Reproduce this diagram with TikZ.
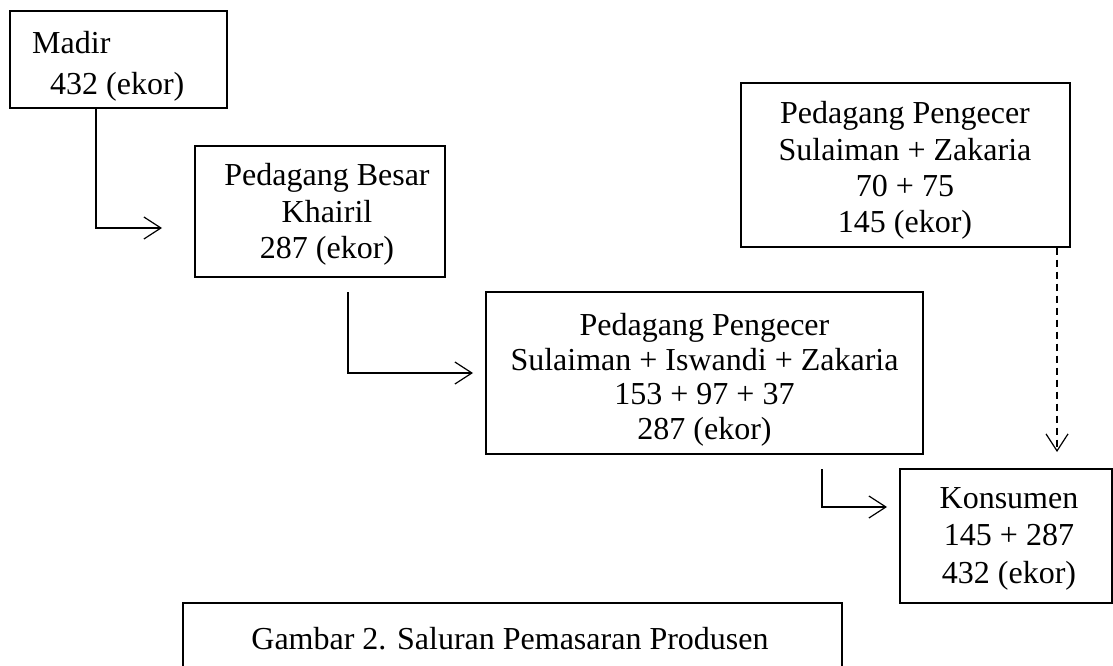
\documentclass[tikz,border=0pt]{standalone}
\usepackage{fontspec}
\setmainfont{Liberation Serif}
\usetikzlibrary{arrows.meta}
\begin{document}
\begin{tikzpicture}[x=1pt,y=-1pt,
  box/.style={draw, line width=1.2pt, inner sep=0pt},
  txt/.style={inner sep=0pt, align=center, font=\fontsize{32}{36.5}\selectfont},
  arr/.style={line width=1.2pt, -{Straight Barb[length=17pt,width=22pt]}},
  dsh/.style={dash pattern=on 7pt off 5pt}]
\useasboundingbox (0,0) rectangle (1113,666);
\clip (0,0) rectangle (1113,666);
% boxes
\node[box, minimum width=217pt, minimum height=97pt]  (madir)  at (118.5,59.5) {};
\node[box, minimum width=250pt, minimum height=131pt] (besar)  at (320,211.5) {};
\node[box, minimum width=329pt, minimum height=164pt] (topr)   at (905.5,165) {};
\node[box, minimum width=437pt, minimum height=162pt] (middle) at (704.5,373) {};
\node[box, minimum width=212pt, minimum height=134pt] (kons)   at (1006,536) {};
\node[box, minimum width=659pt, minimum height=74pt]  (capbox) at (512.5,640) {};
% texts
\node[txt, anchor=north west, align=left] (madirT) at (32,31.5) {Madir\\[4.5pt]\hspace*{18pt}432 (ekor)};
\node[txt, anchor=north] (besarT) at (327,163.5) {Pedagang Besar\\Khairil\\287 (ekor)};
\node[txt, anchor=north, font=\fontsize{32}{36.3}\selectfont] (toprT) at (905,101.5) {Pedagang Pengecer\\Sulaiman + Zakaria\\70 + 75\\145 (ekor)};
\node[txt, anchor=north, font=\fontsize{32}{34.5}\selectfont] (midT) at (704.5,313.5) {Pedagang Pengecer\\Sulaiman + Iswandi + Zakaria\\153 + 97 + 37\\287 (ekor)};
\node[txt, anchor=north, font=\fontsize{32}{37.5}\selectfont] (konsT) at (1009,487) {Konsumen\\145 + 287\\432 (ekor)};
\node[txt, anchor=base] (capT) at (510,649) {Gambar 2. Saluran Pemasaran Produsen};
% connector ends
\coordinate (a1e) at (162,228);
\coordinate (a2s) at (348,292);
\coordinate (a2e) at (473,373);
\coordinate (a3e) at (1057,452);
\coordinate (a4s) at (822,469);
\coordinate (a4e) at (887,507);
% connectors
\draw[arr] ([xshift=-22.5pt]madir.south) |- (a1e);
\draw[arr] (a2s) |- (a2e);
\draw[arr, dsh] (topr.south -| a3e) -- (a3e);
\draw[arr] (a4s) |- (a4e);
\end{tikzpicture}
\end{document}
